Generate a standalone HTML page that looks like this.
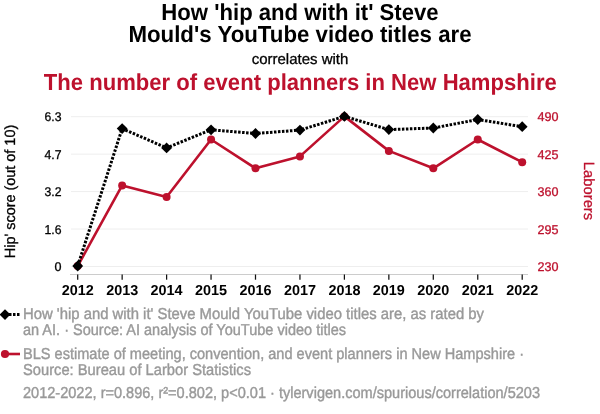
<!DOCTYPE html>
<html><head><meta charset="utf-8"><style>
html,body{margin:0;padding:0;background:#fff;width:600px;height:414px;overflow:hidden}
svg{position:absolute;left:0;top:0;will-change:transform}
text{font-family:"Liberation Sans",sans-serif;text-rendering:geometricPrecision}
.t1{font-size:23.1px;font-weight:bold;fill:#000}
.t2{font-size:15px;fill:#000;stroke:#000;stroke-width:0.3px}
.t3{font-size:23.1px;font-weight:bold;fill:#bd112d}
.yl{font-size:12.7px;fill:#000;stroke:#000;stroke-width:0.3px}
.yr{font-size:12.7px;fill:#bd112d;stroke:#bd112d;stroke-width:0.3px}
.xl{font-size:14.4px;font-weight:bold;fill:#000}
.at{font-size:14.8px;stroke:currentColor;stroke-width:0.3px}
.lg{font-size:15.8px;fill:#999999;stroke:#999999;stroke-width:0.4px}
</style></head><body>
<svg width="600" height="414" viewBox="0 0 600 414">
<text x="300" y="20" text-anchor="middle" class="t1" textLength="277.3" lengthAdjust="spacingAndGlyphs">How 'hip and with it' Steve</text>
<text x="300" y="41.8" text-anchor="middle" class="t1" textLength="343.2" lengthAdjust="spacingAndGlyphs">Mould's YouTube video titles are</text>
<text x="300" y="63.8" text-anchor="middle" class="t2">correlates with</text>
<text x="300.3" y="90" text-anchor="middle" class="t3" textLength="513" lengthAdjust="spacingAndGlyphs">The number of event planners in New Hampshire</text>
<line x1="71" x2="528" y1="116.70" y2="116.70" stroke="#eeeeee" stroke-width="1"/>
<line x1="71" x2="528" y1="154.15" y2="154.15" stroke="#eeeeee" stroke-width="1"/>
<line x1="71" x2="528" y1="191.60" y2="191.60" stroke="#eeeeee" stroke-width="1"/>
<line x1="71" x2="528" y1="229.05" y2="229.05" stroke="#eeeeee" stroke-width="1"/>
<line x1="71" x2="528" y1="266.50" y2="266.50" stroke="#eeeeee" stroke-width="1"/>
<line x1="70" x2="528" y1="274.5" y2="274.5" stroke="#cccccc" stroke-width="1"/>
<line x1="77.70" x2="77.70" y1="274.5" y2="279.7" stroke="#111111" stroke-width="1.25"/>
<line x1="122.15" x2="122.15" y1="274.5" y2="279.7" stroke="#111111" stroke-width="1.25"/>
<line x1="166.60" x2="166.60" y1="274.5" y2="279.7" stroke="#111111" stroke-width="1.25"/>
<line x1="211.05" x2="211.05" y1="274.5" y2="279.7" stroke="#111111" stroke-width="1.25"/>
<line x1="255.50" x2="255.50" y1="274.5" y2="279.7" stroke="#111111" stroke-width="1.25"/>
<line x1="299.95" x2="299.95" y1="274.5" y2="279.7" stroke="#111111" stroke-width="1.25"/>
<line x1="344.40" x2="344.40" y1="274.5" y2="279.7" stroke="#111111" stroke-width="1.25"/>
<line x1="388.85" x2="388.85" y1="274.5" y2="279.7" stroke="#111111" stroke-width="1.25"/>
<line x1="433.30" x2="433.30" y1="274.5" y2="279.7" stroke="#111111" stroke-width="1.25"/>
<line x1="477.75" x2="477.75" y1="274.5" y2="279.7" stroke="#111111" stroke-width="1.25"/>
<line x1="522.20" x2="522.20" y1="274.5" y2="279.7" stroke="#111111" stroke-width="1.25"/>
<text x="61.5" y="121.20" text-anchor="end" class="yl" textLength="17" lengthAdjust="spacingAndGlyphs">6.3</text>
<text x="61.5" y="158.65" text-anchor="end" class="yl" textLength="17" lengthAdjust="spacingAndGlyphs">4.7</text>
<text x="61.5" y="196.10" text-anchor="end" class="yl" textLength="17" lengthAdjust="spacingAndGlyphs">3.2</text>
<text x="61.5" y="233.55" text-anchor="end" class="yl" textLength="17" lengthAdjust="spacingAndGlyphs">1.6</text>
<text x="61.5" y="271.00" text-anchor="end" class="yl" textLength="7" lengthAdjust="spacingAndGlyphs">0</text>
<text x="537.5" y="121.20" text-anchor="start" class="yr" textLength="21" lengthAdjust="spacingAndGlyphs">490</text>
<text x="537.5" y="158.65" text-anchor="start" class="yr" textLength="21" lengthAdjust="spacingAndGlyphs">425</text>
<text x="537.5" y="196.10" text-anchor="start" class="yr" textLength="21" lengthAdjust="spacingAndGlyphs">360</text>
<text x="537.5" y="233.55" text-anchor="start" class="yr" textLength="21" lengthAdjust="spacingAndGlyphs">295</text>
<text x="537.5" y="271.00" text-anchor="start" class="yr" textLength="21" lengthAdjust="spacingAndGlyphs">230</text>
<text x="77.70" y="295.1" text-anchor="middle" class="xl">2012</text>
<text x="122.15" y="295.1" text-anchor="middle" class="xl">2013</text>
<text x="166.60" y="295.1" text-anchor="middle" class="xl">2014</text>
<text x="211.05" y="295.1" text-anchor="middle" class="xl">2015</text>
<text x="255.50" y="295.1" text-anchor="middle" class="xl">2016</text>
<text x="299.95" y="295.1" text-anchor="middle" class="xl">2017</text>
<text x="344.40" y="295.1" text-anchor="middle" class="xl">2018</text>
<text x="388.85" y="295.1" text-anchor="middle" class="xl">2019</text>
<text x="433.30" y="295.1" text-anchor="middle" class="xl">2020</text>
<text x="477.75" y="295.1" text-anchor="middle" class="xl">2021</text>
<text x="522.20" y="295.1" text-anchor="middle" class="xl">2022</text>
<polyline points="77.70,266.00 122.15,185.40 166.60,197.00 211.05,139.50 255.50,168.30 299.95,156.40 344.40,116.40 388.85,150.90 433.30,168.30 477.75,139.50 522.20,162.20" fill="none" stroke="#bd112d" stroke-width="2.6" stroke-linejoin="round"/>
<circle cx="77.70" cy="266.00" r="4" fill="#bd112d"/>
<circle cx="122.15" cy="185.40" r="4" fill="#bd112d"/>
<circle cx="166.60" cy="197.00" r="4" fill="#bd112d"/>
<circle cx="211.05" cy="139.50" r="4" fill="#bd112d"/>
<circle cx="255.50" cy="168.30" r="4" fill="#bd112d"/>
<circle cx="299.95" cy="156.40" r="4" fill="#bd112d"/>
<circle cx="344.40" cy="116.40" r="4" fill="#bd112d"/>
<circle cx="388.85" cy="150.90" r="4" fill="#bd112d"/>
<circle cx="433.30" cy="168.30" r="4" fill="#bd112d"/>
<circle cx="477.75" cy="139.50" r="4" fill="#bd112d"/>
<circle cx="522.20" cy="162.20" r="4" fill="#bd112d"/>
<polyline points="77.70,266.00 122.15,128.60 166.60,147.90 211.05,129.80 255.50,133.50 299.95,130.10 344.40,116.40 388.85,129.60 433.30,128.00 477.75,119.50 522.20,126.70" fill="none" stroke="#000" stroke-width="3" stroke-dasharray="2.5 1.5"/>
<path d="M77.70 260.60L83.10 266.00L77.70 271.40L72.30 266.00Z" fill="#000"/>
<path d="M122.15 123.20L127.55 128.60L122.15 134.00L116.75 128.60Z" fill="#000"/>
<path d="M166.60 142.50L172.00 147.90L166.60 153.30L161.20 147.90Z" fill="#000"/>
<path d="M211.05 124.40L216.45 129.80L211.05 135.20L205.65 129.80Z" fill="#000"/>
<path d="M255.50 128.10L260.90 133.50L255.50 138.90L250.10 133.50Z" fill="#000"/>
<path d="M299.95 124.70L305.35 130.10L299.95 135.50L294.55 130.10Z" fill="#000"/>
<path d="M344.40 111.00L349.80 116.40L344.40 121.80L339.00 116.40Z" fill="#000"/>
<path d="M388.85 124.20L394.25 129.60L388.85 135.00L383.45 129.60Z" fill="#000"/>
<path d="M433.30 122.60L438.70 128.00L433.30 133.40L427.90 128.00Z" fill="#000"/>
<path d="M477.75 114.10L483.15 119.50L477.75 124.90L472.35 119.50Z" fill="#000"/>
<path d="M522.20 121.30L527.60 126.70L522.20 132.10L516.80 126.70Z" fill="#000"/>
<text transform="translate(14.8 191.5) rotate(-90)" text-anchor="middle" class="at" fill="#000" style="color:#000" textLength="133.4" lengthAdjust="spacingAndGlyphs">Hip' score (out of 10)</text>
<text transform="translate(583.5 191) rotate(90)" text-anchor="middle" class="at" fill="#bd112d" style="color:#bd112d">Laborers</text>
<line x1="5" x2="20" y1="314.6" y2="314.6" stroke="#000" stroke-width="3" stroke-dasharray="2.5 1.5"/>
<path d="M5 309.20000000000005L10.4 314.6L5 320.0L-0.40000000000000036 314.6Z" fill="#000"/>
<line x1="5" x2="20" y1="354" y2="354" stroke="#bd112d" stroke-width="2.6"/>
<circle cx="5" cy="354" r="4.1" fill="#bd112d"/>
<text x="23" y="319" text-anchor="start" class="lg" textLength="461" lengthAdjust="spacingAndGlyphs">How 'hip and with it' Steve Mould YouTube video titles are, as rated by</text>
<text x="23" y="335" text-anchor="start" class="lg" textLength="323" lengthAdjust="spacingAndGlyphs">an AI. · Source: AI analysis of YouTube video titles</text>
<text x="23" y="359" text-anchor="start" class="lg" textLength="501" lengthAdjust="spacingAndGlyphs">BLS estimate of meeting, convention, and event planners in New Hampshire ·</text>
<text x="23" y="375" text-anchor="start" class="lg" textLength="228" lengthAdjust="spacingAndGlyphs">Source: Bureau of Larbor Statistics</text>
<text x="23" y="397.8" text-anchor="start" class="lg" textLength="517" lengthAdjust="spacingAndGlyphs">2012-2022, r=0.896, r²=0.802, p&lt;0.01 · tylervigen.com/spurious/correlation/5203</text>
</svg>
</body></html>
